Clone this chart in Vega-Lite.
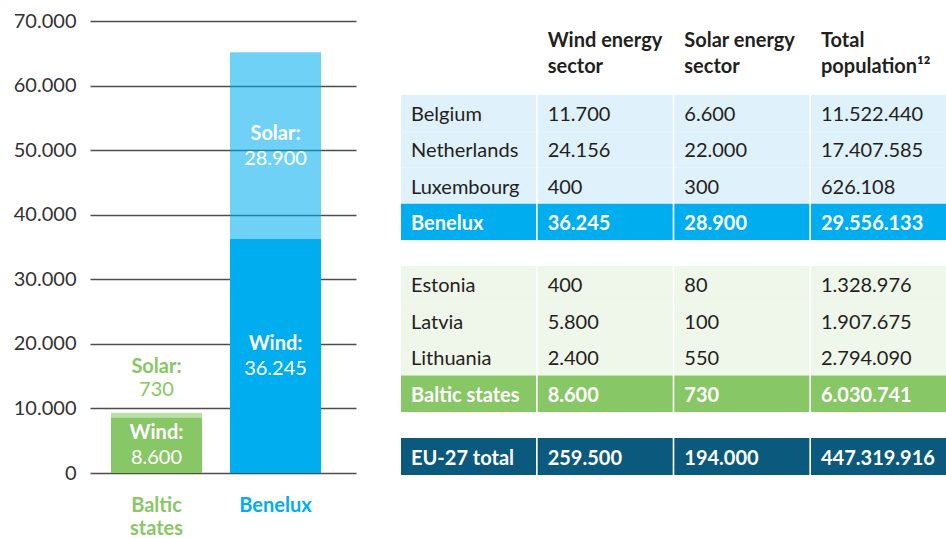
{
  "$schema": "https://vega.github.io/schema/vega-lite/v6.json",
  "padding": {"left": 13, "top": 11, "right": 0, "bottom": 0},
  "background": "white",
  "config": {
    "locale": {"number": {"decimal": ",", "thousands": ".", "grouping": [3], "currency": ["", ""]}},
    "view": {"stroke": null},
    "font": "Lato",
    "text": {"font": "Lato"},
    "axis": {"labelFont": "Lato"}
  },
  "datasets": {
    "energy": [
      {"region": "Baltic states", "source": "Wind", "value": 8600},
      {"region": "Baltic states", "source": "Solar", "value": 730},
      {"region": "Benelux", "source": "Wind", "value": 36245},
      {"region": "Benelux", "source": "Solar", "value": 28900}
    ],
    "table": [
      {"name": "Belgium", "group": "Benelux", "level": "country", "kind": "Benelux country", "wind": 11700, "solar": 6600, "total": 11522440},
      {"name": "Netherlands", "group": "Benelux", "level": "country", "kind": "Benelux country", "wind": 24156, "solar": 22000, "total": 17407585},
      {"name": "Luxembourg", "group": "Benelux", "level": "country", "kind": "Benelux country", "wind": 400, "solar": 300, "total": 626108},
      {"name": "Benelux", "group": "Benelux", "level": "total", "kind": "Benelux total", "wind": 36245, "solar": 28900, "total": 29556133},
      {"name": "Estonia", "group": "Baltic", "level": "country", "kind": "Baltic country", "wind": 400, "solar": 80, "total": 1328976},
      {"name": "Latvia", "group": "Baltic", "level": "country", "kind": "Baltic country", "wind": 5800, "solar": 100, "total": 1907675},
      {"name": "Lithuania", "group": "Baltic", "level": "country", "kind": "Baltic country", "wind": 2400, "solar": 550, "total": 2794090},
      {"name": "Baltic states", "group": "Baltic", "level": "total", "kind": "Baltic total", "wind": 8600, "solar": 730, "total": 6030741},
      {"name": "EU-27 total", "group": "EU", "level": "total", "kind": "EU total", "wind": 259500, "solar": 194000, "total": 447319916}
    ],
    "header": [
      {"col": "wind", "label": "Wind energy\nsector"},
      {"col": "solar", "label": "Solar energy\nsector"},
      {"col": "total", "label": "Total\npopulation¹²"}
    ]
  },
  "bounds": "flush",
  "spacing": 45,
  "resolve": {"scale": {"color": "independent", "opacity": "independent"}},
  "hconcat": [
    {
      "width": 266,
      "height": 452,
      "data": {"name": "energy"},
      "transform": [
        {"stack": "value", "groupby": ["region"], "sort": [{"field": "source", "order": "descending"}], "as": ["v0", "v1"]},
        {"calculate": "datum.source + ':'", "as": "title"},
        {"calculate": "(datum.v0 + datum.v1) / 2", "as": "mid"}
      ],
      "encoding": {
        "x": {
          "field": "region", "type": "nominal",
          "scale": {"domain": ["Baltic states", "Benelux"], "paddingInner": 0.235, "paddingOuter": 0.235, "align": 0.375},
          "axis": {
            "title": null, "domain": false, "ticks": false, "labelAngle": 0,
            "labelFontSize": 20, "labelFontWeight": "bold", "labelLineHeight": 23, "labelPadding": 22,
            "labelColor": {"condition": {"test": "datum.value == 'Baltic states'", "value": "#88c766"}, "value": "#00adef"},
            "labelExpr": "datum.value == 'Baltic states' ? ['Baltic', 'states'] : datum.value"
          }
        }
      },
      "layer": [
        {
          "mark": {"type": "bar"},
          "encoding": {
            "y": {
              "field": "v0", "type": "quantitative",
              "scale": {"domain": [0, 70000], "nice": false},
              "axis": {
                "title": null, "values": [0, 10000, 20000, 30000, 40000, 50000, 60000, 70000],
                "format": ",d", "domain": false, "ticks": false,
                "labelFontSize": 20, "labelColor": "#333333", "labelPadding": 14,
                "gridColor": "#4d4d4d", "gridWidth": 1.3
              }
            },
            "y2": {"field": "v1"},
            "color": {"field": "region", "type": "nominal", "scale": {"domain": ["Baltic states", "Benelux"], "range": ["#88c766", "#00adef"]}, "legend": null},
            "opacity": {"field": "source", "type": "nominal", "scale": {"domain": ["Wind", "Solar"], "range": [1, 0.56]}, "legend": null}
          }
        },
        {
          "transform": [{"filter": "!(datum.region == 'Baltic states' && datum.source == 'Solar')"}],
          "mark": {"type": "text", "color": "white", "fontSize": 20, "fontWeight": "bold", "dy": -12},
          "encoding": {"y": {"field": "mid", "type": "quantitative"}, "text": {"field": "title"}}
        },
        {
          "transform": [{"filter": "!(datum.region == 'Baltic states' && datum.source == 'Solar')"}],
          "mark": {"type": "text", "color": "white", "fontSize": 20, "dy": 13},
          "encoding": {"y": {"field": "mid", "type": "quantitative"}, "text": {"field": "value", "type": "quantitative", "format": ",d"}}
        },
        {
          "transform": [{"filter": "datum.region == 'Baltic states' && datum.source == 'Solar'"}],
          "mark": {"type": "text", "color": "#88c766", "fontSize": 20, "fontWeight": "bold", "dy": -46},
          "encoding": {"y": {"field": "v1", "type": "quantitative"}, "text": {"field": "title"}}
        },
        {
          "transform": [{"filter": "datum.region == 'Baltic states' && datum.source == 'Solar'"}],
          "mark": {"type": "text", "color": "#88c766", "fontSize": 20, "dy": -23},
          "encoding": {"y": {"field": "v1", "type": "quantitative"}, "text": {"field": "value", "type": "quantitative", "format": ",d"}}
        }
      ]
    },
    {
      "bounds": "flush",
      "spacing": 10,
      "vconcat": [
        {
          "width": 545,
          "height": 64,
          "data": {"name": "header"},
          "mark": {"type": "text", "align": "left", "baseline": "middle", "dx": 10, "dy": -12, "fontSize": 20, "fontWeight": "bold", "color": "#231f20", "lineBreak": "\n", "lineHeight": 26},
          "encoding": {
            "x": {"field": "col", "type": "nominal", "bandPosition": 0, "scale": {"type": "band", "domain": ["name", "wind", "solar", "total"], "paddingInner": 0.012, "paddingOuter": 0}, "axis": null},
            "text": {"field": "label"}
          }
        },
        {
          "bounds": "flush",
          "spacing": 26,
          "vconcat": [
            {
              "width": 545, "height": 145,
              "data": {"name": "table"},
              "transform": [{"filter": "datum.group == 'Benelux'"}],
              "encoding": {"y": {"field": "name", "type": "nominal", "sort": null, "axis": null, "scale": {"paddingInner": 0, "paddingOuter": 0}}},
              "layer": [
                {
                  "transform": [{"fold": ["name", "wind", "solar", "total"]}],
                  "mark": {"type": "rect"},
                  "encoding": {
                    "x": {"field": "key", "type": "nominal", "scale": {"domain": ["name", "wind", "solar", "total"], "paddingInner": 0.012, "paddingOuter": 0}, "axis": null},
                    "color": {"field": "kind", "type": "nominal", "scale": {"domain": ["Benelux country", "Benelux total", "Baltic country", "Baltic total", "EU total"], "range": ["#dff1fa", "#00adee", "#eff6ea", "#88c766", "#0b5a7d"]}, "legend": null}
                  }
                },
                {
                  "transform": [{"filter": "datum.level == 'country'"}],
                  "mark": {"type": "text", "align": "left", "baseline": "middle", "dx": 10, "dy": 2, "fontSize": 20, "color": "#231f20"},
                  "encoding": {"x": {"datum": "name", "type": "nominal", "bandPosition": 0}, "text": {"field": "name"}}
                },
                {
                  "transform": [{"filter": "datum.level == 'total'"}],
                  "mark": {"type": "text", "align": "left", "baseline": "middle", "dx": 10, "dy": 2, "fontSize": 20, "fontWeight": "bold", "color": "white"},
                  "encoding": {"x": {"datum": "name", "type": "nominal", "bandPosition": 0}, "text": {"field": "name"}}
                },
                {
                  "transform": [{"filter": "datum.level == 'country'"}, {"fold": ["wind", "solar", "total"], "as": ["col", "num"]}],
                  "mark": {"type": "text", "align": "left", "baseline": "middle", "dx": 10, "dy": 2, "fontSize": 20, "color": "#231f20"},
                  "encoding": {"x": {"field": "col", "type": "nominal", "bandPosition": 0}, "text": {"field": "num", "type": "quantitative", "format": ",d"}}
                },
                {
                  "transform": [{"filter": "datum.level == 'total'"}, {"fold": ["wind", "solar", "total"], "as": ["col", "num"]}],
                  "mark": {"type": "text", "align": "left", "baseline": "middle", "dx": 10, "dy": 2, "fontSize": 20, "fontWeight": "bold", "color": "white"},
                  "encoding": {"x": {"field": "col", "type": "nominal", "bandPosition": 0}, "text": {"field": "num", "type": "quantitative", "format": ",d"}}
                }
              ]
            },
            {
              "width": 545, "height": 146,
              "data": {"name": "table"},
              "transform": [{"filter": "datum.group == 'Baltic'"}],
              "encoding": {"y": {"field": "name", "type": "nominal", "sort": null, "axis": null, "scale": {"paddingInner": 0, "paddingOuter": 0}}},
              "layer": [
                {
                  "transform": [{"fold": ["name", "wind", "solar", "total"]}],
                  "mark": {"type": "rect"},
                  "encoding": {
                    "x": {"field": "key", "type": "nominal", "scale": {"domain": ["name", "wind", "solar", "total"], "paddingInner": 0.012, "paddingOuter": 0}, "axis": null},
                    "color": {"field": "kind", "type": "nominal", "scale": {"domain": ["Benelux country", "Benelux total", "Baltic country", "Baltic total", "EU total"], "range": ["#dff1fa", "#00adee", "#eff6ea", "#88c766", "#0b5a7d"]}, "legend": null}
                  }
                },
                {
                  "transform": [{"filter": "datum.level == 'country'"}],
                  "mark": {"type": "text", "align": "left", "baseline": "middle", "dx": 10, "dy": 2, "fontSize": 20, "color": "#231f20"},
                  "encoding": {"x": {"datum": "name", "type": "nominal", "bandPosition": 0}, "text": {"field": "name"}}
                },
                {
                  "transform": [{"filter": "datum.level == 'total'"}],
                  "mark": {"type": "text", "align": "left", "baseline": "middle", "dx": 10, "dy": 2, "fontSize": 20, "fontWeight": "bold", "color": "white"},
                  "encoding": {"x": {"datum": "name", "type": "nominal", "bandPosition": 0}, "text": {"field": "name"}}
                },
                {
                  "transform": [{"filter": "datum.level == 'country'"}, {"fold": ["wind", "solar", "total"], "as": ["col", "num"]}],
                  "mark": {"type": "text", "align": "left", "baseline": "middle", "dx": 10, "dy": 2, "fontSize": 20, "color": "#231f20"},
                  "encoding": {"x": {"field": "col", "type": "nominal", "bandPosition": 0}, "text": {"field": "num", "type": "quantitative", "format": ",d"}}
                },
                {
                  "transform": [{"filter": "datum.level == 'total'"}, {"fold": ["wind", "solar", "total"], "as": ["col", "num"]}],
                  "mark": {"type": "text", "align": "left", "baseline": "middle", "dx": 10, "dy": 2, "fontSize": 20, "fontWeight": "bold", "color": "white"},
                  "encoding": {"x": {"field": "col", "type": "nominal", "bandPosition": 0}, "text": {"field": "num", "type": "quantitative", "format": ",d"}}
                }
              ]
            },
            {
              "width": 545, "height": 37,
              "data": {"name": "table"},
              "transform": [{"filter": "datum.group == 'EU'"}],
              "encoding": {"y": {"field": "name", "type": "nominal", "sort": null, "axis": null, "scale": {"paddingInner": 0, "paddingOuter": 0}}},
              "layer": [
                {
                  "transform": [{"fold": ["name", "wind", "solar", "total"]}],
                  "mark": {"type": "rect"},
                  "encoding": {
                    "x": {"field": "key", "type": "nominal", "scale": {"domain": ["name", "wind", "solar", "total"], "paddingInner": 0.012, "paddingOuter": 0}, "axis": null},
                    "color": {"field": "kind", "type": "nominal", "scale": {"domain": ["Benelux country", "Benelux total", "Baltic country", "Baltic total", "EU total"], "range": ["#dff1fa", "#00adee", "#eff6ea", "#88c766", "#0b5a7d"]}, "legend": null}
                  }
                },
                {
                  "mark": {"type": "text", "align": "left", "baseline": "middle", "dx": 10, "dy": 2, "fontSize": 20, "fontWeight": "bold", "color": "white"},
                  "encoding": {"x": {"datum": "name", "type": "nominal", "bandPosition": 0}, "text": {"field": "name"}}
                },
                {
                  "transform": [{"fold": ["wind", "solar", "total"], "as": ["col", "num"]}],
                  "mark": {"type": "text", "align": "left", "baseline": "middle", "dx": 10, "dy": 2, "fontSize": 20, "fontWeight": "bold", "color": "white"},
                  "encoding": {"x": {"field": "col", "type": "nominal", "bandPosition": 0}, "text": {"field": "num", "type": "quantitative", "format": ",d"}}
                }
              ]
            }
          ]
        }
      ]
    }
  ]
}
